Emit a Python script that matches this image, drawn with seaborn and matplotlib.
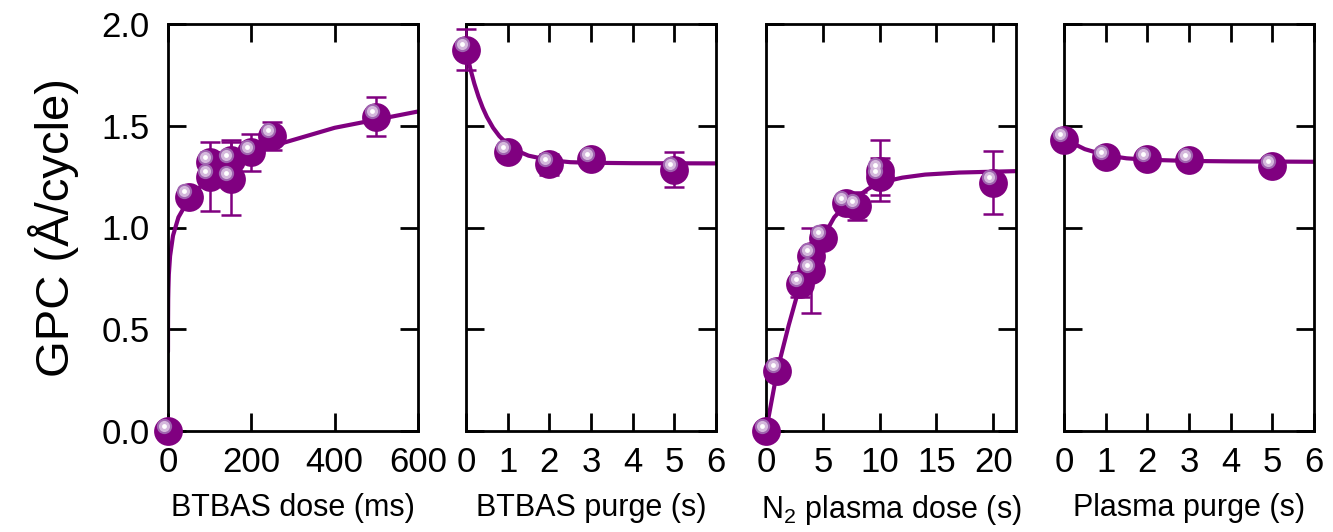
import numpy as np
import pandas as pd
import matplotlib
matplotlib.use("Agg")
import matplotlib.pyplot as plt
import matplotlib.transforms as mtransforms
import seaborn as sns

PURPLE = "#800080"

# ---- data ----
# BTBAS dose (ms)
dose_x = [0, 50, 100, 100, 150, 150, 200, 250, 500]
dose_y = [0.0, 1.15, 1.32, 1.25, 1.33, 1.24, 1.37, 1.45, 1.545]
dose_err = [0, 0.02, 0.05, 0.17, 0.10, 0.18, 0.09, 0.07, 0.094]
dose_fit_x = [0, 0.1, 0.5, 1, 2, 5, 12, 25, 50, 100, 150, 200, 250, 300, 400, 500, 600]
dose_fit_y = [0.39, 0.53, 0.65, 0.70, 0.77, 0.86, 0.96, 1.05, 1.14, 1.25, 1.31, 1.36,
              1.40, 1.43, 1.49, 1.53, 1.57]

# BTBAS purge (s)
bpurge_x = [0, 1, 2, 3, 5]
bpurge_y = [1.873, 1.37, 1.31, 1.335, 1.285]
bpurge_err = [0.10, 0.03, 0.05, 0.04, 0.088]
bpurge_fit_x = [0.03, 0.1, 0.2, 0.3, 0.4, 0.5, 0.65, 0.8, 1.0, 1.25, 1.5, 2, 2.5, 3, 4, 6]
bpurge_fit_y = [1.85, 1.783, 1.707, 1.643, 1.589, 1.544, 1.49, 1.449, 1.409, 1.375,
                1.353, 1.331, 1.321, 1.318, 1.316, 1.315]

# N2 plasma dose (s)
plasma_x = [0, 1, 3, 4, 4, 5, 7, 8, 10, 10, 20]
plasma_y = [0.0, 0.295, 0.72, 0.86, 0.79, 0.95, 1.12, 1.105, 1.28, 1.25, 1.22]
plasma_err = [0, 0, 0.06, 0.02, 0.21, 0.02, 0.02, 0.07, 0.15, 0.09, 0.155]
plasma_fit_x = [0, 1, 2, 3, 4, 5, 6, 7, 8, 9, 10, 12, 14, 17, 22]
plasma_fit_y = [0.0, 0.30, 0.52, 0.72, 0.85, 0.95, 1.05, 1.11, 1.15, 1.19, 1.22,
                1.245, 1.26, 1.27, 1.277]

# Plasma purge (s)
ppurge_x = [0, 1, 2, 3, 5]
ppurge_y = [1.43, 1.345, 1.335, 1.33, 1.30]
ppurge_err = [0.02, 0.0, 0.03, 0.0, 0.0]
ppurge_fit_x = [0, 0.5, 1, 1.5, 2, 3, 4, 6]
ppurge_fit_y = [1.435, 1.385, 1.355, 1.34, 1.333, 1.327, 1.325, 1.323]

xlabels = ["BTBAS dose (ms)", "BTBAS purge (s)", "N$_2$ plasma dose (s)", "Plasma purge (s)"]
xlims = [(0, 600), (0, 6), (0, 22), (0, 6)]
xticks = [[0, 200, 400, 600], [0, 1, 2, 3, 4, 5, 6], [0, 5, 10, 15, 20], [0, 1, 2, 3, 4, 5, 6]]
yticks = [0.0, 0.5, 1.0, 1.5, 2.0]

sns.set_theme(style="ticks")
plt.rcParams["font.family"] = ["Liberation Sans", "DejaVu Sans"]
plt.rcParams["mathtext.fontset"] = "custom"
plt.rcParams["mathtext.rm"] = "Liberation Sans"
plt.rcParams["mathtext.it"] = "Liberation Sans:italic"
plt.rcParams["text.color"] = "black"
plt.rcParams["axes.labelcolor"] = "black"

fig = plt.figure(figsize=(13.33, 5.32), dpi=100)
lefts = [168, 466, 766, 1064]
axes = [fig.add_axes([l / 1333, 101 / 532, 250 / 1333, 407 / 532]) for l in lefts]

panels = [
    (dose_x, dose_y, dose_err, dose_fit_x, dose_fit_y),
    (bpurge_x, bpurge_y, bpurge_err, bpurge_fit_x, bpurge_fit_y),
    (plasma_x, plasma_y, plasma_err, plasma_fit_x, plasma_fit_y),
    (ppurge_x, ppurge_y, ppurge_err, ppurge_fit_x, ppurge_fit_y),
]

for i, (ax, (x, y, err, fx, fy)) in enumerate(zip(axes, panels)):
    fit = pd.DataFrame({"x": fx, "y": fy})
    sns.lineplot(data=fit, x="x", y="y", ax=ax, color=PURPLE, linewidth=3,
                 estimator=None, sort=False, zorder=2)
    ax.errorbar(x, y, yerr=err, fmt="none", ecolor=PURPLE, elinewidth=1.8,
                capsize=7, capthick=1.8, zorder=3, clip_on=False)
    pts = pd.DataFrame({"x": x, "y": y})
    sns.scatterplot(data=pts, x="x", y="y", ax=ax, s=430, color=PURPLE,
                    edgecolor=PURPLE, linewidth=0, zorder=4, clip_on=False)
    # glossy highlight, shifted up-left of each ball
    shift = ax.transData + mtransforms.ScaledTranslation(-0.045, 0.055, fig.dpi_scale_trans)
    ax.plot(x, y, "o", ms=11, color="#a064b0", mew=0, transform=shift, zorder=5, clip_on=False)
    ax.plot(x, y, "o", ms=8, color="#d4b8dc", mew=0, transform=shift, zorder=6, clip_on=False)
    ax.plot(x, y, "o", ms=3.5, color="white", mew=0, transform=shift, zorder=7, clip_on=False)

    ax.set_xlim(*xlims[i])
    ax.set_ylim(0, 2.0)
    ax.set_xticks(xticks[i])
    ax.set_yticks(yticks)
    ax.tick_params(direction="in", length=13, width=2, top=True, right=True,
                   labelsize=25, pad=11, colors="black")
    ax.tick_params(axis="y", pad=13)
    for sp in ax.spines.values():
        sp.set_linewidth(2)
        sp.set_color("black")
    ax.set_xlabel(xlabels[i], fontsize=22, labelpad=10)
    if i == 0:
        ax.set_yticklabels([f"{v:.1f}" for v in yticks])
        ax.set_ylabel("GPC (Å/cycle)", fontsize=34, labelpad=16)
    else:
        ax.set_yticklabels([])
        ax.set_ylabel("")

fig.savefig("out.png", dpi=100)
